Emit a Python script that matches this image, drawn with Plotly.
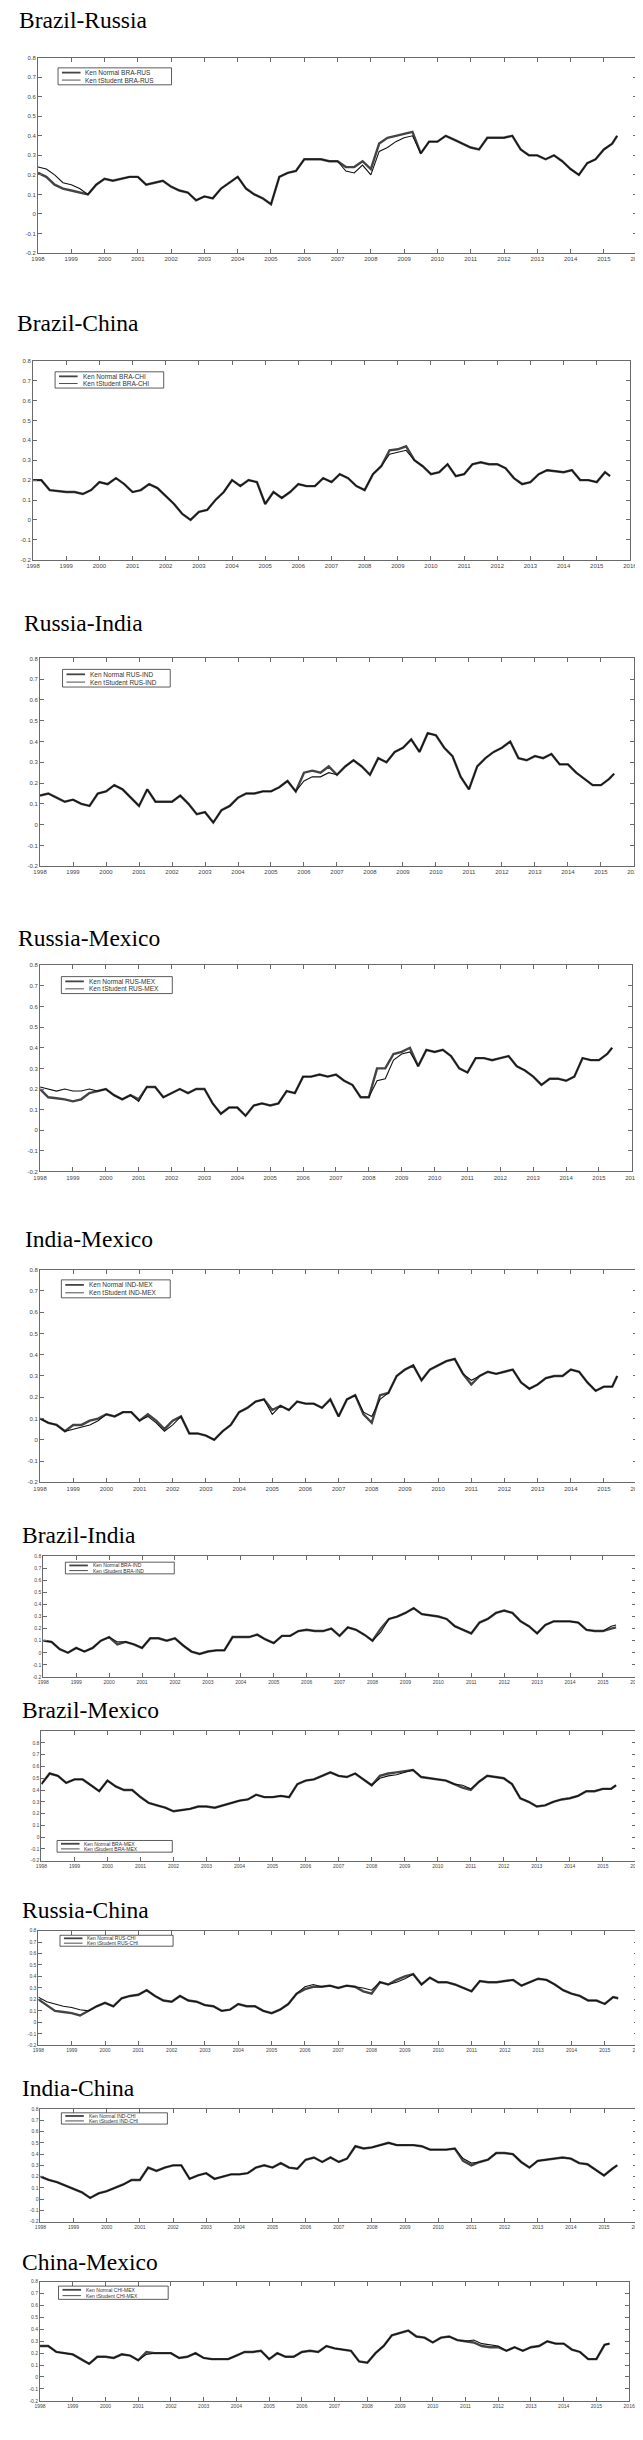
import plotly.graph_objects as go

W, H = 643, 2440

# ---------------- data (quarterly readings, year fractions) ----------------
DATES = [1998.0, 1998.25, 1998.5, 1998.75, 1999.0, 1999.25, 1999.5, 1999.75,
         2000.0, 2000.25, 2000.5, 2000.75, 2001.0, 2001.25, 2001.5, 2001.75,
         2002.0, 2002.25, 2002.5, 2002.75, 2003.0, 2003.25, 2003.5, 2003.75,
         2004.0, 2004.25, 2004.5, 2004.75, 2005.0, 2005.25, 2005.5, 2005.75,
         2006.0, 2006.25, 2006.5, 2006.75, 2007.0, 2007.25, 2007.5, 2007.75,
         2008.0, 2008.25, 2008.5, 2008.75, 2009.0, 2009.25, 2009.5, 2009.75,
         2010.0, 2010.25, 2010.5, 2010.75, 2011.0, 2011.25, 2011.5, 2011.75,
         2012.0, 2012.25, 2012.5, 2012.75, 2013.0, 2013.25, 2013.5, 2013.75,
         2014.0, 2014.25, 2014.5, 2014.75, 2015.0, 2015.25, 2015.4]

YEAR_TICKS = [1998, 1999, 2000, 2001, 2002, 2003, 2004, 2005, 2006, 2007,
              2008, 2009, 2010, 2011, 2012, 2013, 2014, 2015, 2016]
Y_TICKS = [-0.2, -0.1, 0, 0.1, 0.2, 0.3, 0.4, 0.5, 0.6, 0.7, 0.8]
Y_TICK_TEXT = ["-0.2", "-0.1", "0", "0.1", "0.2", "0.3", "0.4", "0.5", "0.6", "0.7", "0.8"]

TITLES = ["Brazil-Russia", "Brazil-China", "Russia-India", "Russia-Mexico", "India-Mexico",
          "Brazil-India", "Brazil-Mexico", "Russia-China", "India-China", "China-Mexico"]
CODES = ["BRA-RUS", "BRA-CHI", "RUS-IND", "RUS-MEX", "IND-MEX",
         "BRA-IND", "BRA-MEX", "RUS-CHI", "IND-CHI", "CHI-MEX"]

BRA_RUS_NORMAL = [0.21, 0.19, 0.15, 0.13, 0.12, 0.11, 0.10, 0.15, 0.18, 0.17, 0.18, 0.19,
                  0.19, 0.15, 0.16, 0.17, 0.14, 0.12, 0.11, 0.07, 0.09, 0.08, 0.13, 0.16,
                  0.19, 0.13, 0.10, 0.08, 0.05, 0.19, 0.21, 0.22, 0.28, 0.28, 0.28, 0.27,
                  0.27, 0.24, 0.24, 0.27, 0.23, 0.36, 0.39, 0.40, 0.41, 0.42, 0.31, 0.37,
                  0.37, 0.40, 0.38, 0.36, 0.34, 0.33, 0.39, 0.39, 0.39, 0.40, 0.33, 0.30,
                  0.30, 0.28, 0.30, 0.27, 0.23, 0.20, 0.26, 0.28, 0.33, 0.36, 0.40]
BRA_RUS_TSTUDENT = [0.24, 0.23, 0.20, 0.16, 0.15, 0.13, 0.10, 0.15, 0.18, 0.17, 0.18, 0.19,
                    0.19, 0.15, 0.16, 0.17, 0.14, 0.12, 0.11, 0.07, 0.09, 0.08, 0.13, 0.16,
                    0.19, 0.13, 0.10, 0.08, 0.05, 0.19, 0.21, 0.22, 0.28, 0.28, 0.28, 0.27,
                    0.27, 0.22, 0.21, 0.25, 0.20, 0.32, 0.34, 0.37, 0.39, 0.40, 0.31, 0.37,
                    0.37, 0.40, 0.38, 0.36, 0.34, 0.33, 0.39, 0.39, 0.39, 0.40, 0.33, 0.30,
                    0.30, 0.28, 0.30, 0.27, 0.23, 0.20, 0.26, 0.28, 0.33, 0.36, 0.40]

BRA_CHI_NORMAL = [0.20, 0.20, 0.15, 0.145, 0.14, 0.14, 0.13, 0.15, 0.19, 0.18, 0.21, 0.18,
                  0.14, 0.15, 0.18, 0.16, 0.12, 0.08, 0.03, 0.00, 0.04, 0.05, 0.10, 0.14,
                  0.20, 0.17, 0.20, 0.19, 0.08, 0.14, 0.11, 0.14, 0.18, 0.17, 0.17, 0.21,
                  0.19, 0.23, 0.21, 0.17, 0.15, 0.23, 0.27, 0.35, 0.355, 0.37, 0.30, 0.27,
                  0.23, 0.24, 0.28, 0.22, 0.23, 0.28, 0.29, 0.28, 0.28, 0.26, 0.21, 0.18,
                  0.19, 0.23, 0.25, 0.245, 0.24, 0.25, 0.20, 0.20, 0.19, 0.24, 0.22]
BRA_CHI_TSTUDENT = [0.20, 0.20, 0.15, 0.145, 0.14, 0.14, 0.13, 0.15, 0.19, 0.18, 0.21, 0.18,
                    0.14, 0.15, 0.18, 0.16, 0.12, 0.08, 0.03, 0.00, 0.04, 0.05, 0.10, 0.14,
                    0.20, 0.17, 0.20, 0.19, 0.08, 0.14, 0.11, 0.14, 0.18, 0.17, 0.17, 0.21,
                    0.19, 0.23, 0.21, 0.17, 0.15, 0.23, 0.27, 0.33, 0.34, 0.35, 0.30, 0.27,
                    0.23, 0.24, 0.28, 0.22, 0.23, 0.28, 0.29, 0.28, 0.28, 0.26, 0.21, 0.18,
                    0.19, 0.23, 0.25, 0.245, 0.24, 0.25, 0.20, 0.20, 0.19, 0.24, 0.22]

RUS_IND_NORMAL = [0.14, 0.15, 0.13, 0.11, 0.12, 0.10, 0.09, 0.15, 0.16, 0.19, 0.17, 0.13,
                  0.09, 0.17, 0.11, 0.11, 0.11, 0.14, 0.10, 0.05, 0.06, 0.01, 0.07, 0.09,
                  0.13, 0.15, 0.15, 0.16, 0.16, 0.18, 0.21, 0.16, 0.25, 0.26, 0.25, 0.28,
                  0.24, 0.28, 0.31, 0.28, 0.24, 0.32, 0.30, 0.35, 0.37, 0.41, 0.35, 0.44,
                  0.43, 0.37, 0.33, 0.23, 0.17, 0.28, 0.32, 0.35, 0.37, 0.40, 0.32, 0.31,
                  0.33, 0.32, 0.34, 0.29, 0.29, 0.25, 0.22, 0.19, 0.19, 0.22, 0.245]
RUS_IND_TSTUDENT = [0.14, 0.15, 0.13, 0.11, 0.12, 0.10, 0.09, 0.15, 0.16, 0.19, 0.17, 0.13,
                    0.09, 0.17, 0.11, 0.11, 0.11, 0.14, 0.10, 0.05, 0.06, 0.01, 0.07, 0.09,
                    0.13, 0.15, 0.15, 0.16, 0.16, 0.18, 0.21, 0.16, 0.21, 0.23, 0.23, 0.25,
                    0.24, 0.28, 0.31, 0.28, 0.24, 0.32, 0.30, 0.35, 0.37, 0.41, 0.35, 0.44,
                    0.43, 0.37, 0.33, 0.23, 0.17, 0.28, 0.32, 0.35, 0.37, 0.40, 0.32, 0.31,
                    0.33, 0.32, 0.34, 0.29, 0.29, 0.25, 0.22, 0.19, 0.19, 0.22, 0.245]

RUS_MEX_NORMAL = [0.20, 0.16, 0.155, 0.15, 0.14, 0.15, 0.18, 0.19, 0.20, 0.17, 0.15, 0.17,
                  0.15, 0.21, 0.21, 0.16, 0.18, 0.20, 0.18, 0.20, 0.20, 0.13, 0.08, 0.11,
                  0.11, 0.07, 0.12, 0.13, 0.12, 0.13, 0.19, 0.18, 0.26, 0.26, 0.27, 0.26,
                  0.27, 0.24, 0.22, 0.16, 0.16, 0.30, 0.30, 0.37, 0.38, 0.40, 0.31, 0.39,
                  0.38, 0.39, 0.36, 0.30, 0.28, 0.35, 0.35, 0.34, 0.35, 0.36, 0.31, 0.29,
                  0.26, 0.22, 0.25, 0.25, 0.24, 0.26, 0.35, 0.34, 0.34, 0.37, 0.40]
RUS_MEX_TSTUDENT = [0.21, 0.20, 0.19, 0.20, 0.19, 0.19, 0.20, 0.19, 0.20, 0.17, 0.15, 0.17,
                    0.14, 0.21, 0.21, 0.16, 0.18, 0.20, 0.18, 0.20, 0.20, 0.13, 0.08, 0.11,
                    0.11, 0.07, 0.12, 0.13, 0.12, 0.13, 0.19, 0.18, 0.26, 0.26, 0.27, 0.26,
                    0.27, 0.24, 0.22, 0.16, 0.16, 0.24, 0.25, 0.34, 0.37, 0.38, 0.31, 0.39,
                    0.38, 0.39, 0.36, 0.30, 0.28, 0.35, 0.35, 0.34, 0.35, 0.36, 0.31, 0.29,
                    0.26, 0.22, 0.25, 0.25, 0.24, 0.26, 0.35, 0.34, 0.34, 0.37, 0.40]

IND_MEX_NORMAL = [0.10, 0.08, 0.07, 0.04, 0.07, 0.07, 0.09, 0.10, 0.12, 0.11, 0.13, 0.13,
                  0.09, 0.12, 0.09, 0.05, 0.09, 0.11, 0.03, 0.03, 0.02, 0.00, 0.04, 0.07,
                  0.13, 0.15, 0.18, 0.19, 0.14, 0.16, 0.14, 0.18, 0.17, 0.17, 0.15, 0.19,
                  0.11, 0.19, 0.21, 0.12, 0.08, 0.21, 0.22, 0.30, 0.33, 0.35, 0.28, 0.33,
                  0.35, 0.37, 0.38, 0.31, 0.26, 0.30, 0.32, 0.31, 0.32, 0.33, 0.27, 0.24,
                  0.26, 0.29, 0.30, 0.30, 0.33, 0.32, 0.27, 0.23, 0.25, 0.25, 0.30]
IND_MEX_TSTUDENT = [0.10, 0.08, 0.07, 0.04, 0.05, 0.06, 0.07, 0.09, 0.12, 0.11, 0.13, 0.13,
                    0.09, 0.11, 0.08, 0.04, 0.07, 0.11, 0.03, 0.03, 0.02, 0.00, 0.04, 0.07,
                    0.13, 0.15, 0.18, 0.19, 0.12, 0.16, 0.14, 0.18, 0.17, 0.17, 0.15, 0.19,
                    0.11, 0.19, 0.21, 0.13, 0.11, 0.19, 0.22, 0.30, 0.33, 0.35, 0.28, 0.33,
                    0.35, 0.37, 0.38, 0.31, 0.28, 0.30, 0.32, 0.31, 0.32, 0.33, 0.27, 0.24,
                    0.26, 0.29, 0.30, 0.30, 0.33, 0.32, 0.27, 0.23, 0.25, 0.25, 0.30]

BRA_IND_NORMAL = [0.10, 0.09, 0.03, 0.00, 0.04, 0.01, 0.04, 0.10, 0.13, 0.07, 0.09, 0.07,
                  0.04, 0.12, 0.12, 0.10, 0.12, 0.06, 0.01, -0.01, 0.01, 0.02, 0.02, 0.13,
                  0.13, 0.13, 0.15, 0.11, 0.08, 0.14, 0.14, 0.18, 0.19, 0.18, 0.18, 0.20,
                  0.14, 0.21, 0.19, 0.15, 0.10, 0.20, 0.28, 0.30, 0.33, 0.37, 0.32, 0.31,
                  0.30, 0.28, 0.22, 0.19, 0.16, 0.25, 0.28, 0.33, 0.35, 0.33, 0.26, 0.22,
                  0.16, 0.23, 0.26, 0.26, 0.26, 0.25, 0.19, 0.18, 0.18, 0.20, 0.21]
BRA_IND_TSTUDENT = [0.10, 0.09, 0.03, 0.00, 0.04, 0.01, 0.04, 0.10, 0.13, 0.09, 0.09, 0.07,
                    0.04, 0.12, 0.12, 0.10, 0.12, 0.06, 0.01, -0.01, 0.01, 0.02, 0.02, 0.13,
                    0.13, 0.13, 0.15, 0.11, 0.08, 0.14, 0.14, 0.18, 0.19, 0.18, 0.18, 0.20,
                    0.14, 0.21, 0.19, 0.15, 0.10, 0.17, 0.28, 0.30, 0.33, 0.37, 0.32, 0.31,
                    0.30, 0.28, 0.22, 0.19, 0.16, 0.25, 0.28, 0.33, 0.35, 0.33, 0.26, 0.22,
                    0.16, 0.23, 0.26, 0.26, 0.26, 0.25, 0.19, 0.18, 0.18, 0.22, 0.23]

BRA_MEX_NORMAL = [0.45, 0.54, 0.52, 0.46, 0.49, 0.49, 0.44, 0.39, 0.48, 0.43, 0.40, 0.40,
                  0.34, 0.29, 0.27, 0.25, 0.22, 0.23, 0.24, 0.26, 0.26, 0.25, 0.27, 0.29,
                  0.31, 0.32, 0.36, 0.34, 0.34, 0.35, 0.34, 0.45, 0.48, 0.49, 0.52, 0.55,
                  0.52, 0.51, 0.54, 0.49, 0.44, 0.52, 0.54, 0.55, 0.56, 0.57, 0.51, 0.50,
                  0.49, 0.48, 0.45, 0.42, 0.40, 0.47, 0.52, 0.51, 0.50, 0.45, 0.33, 0.30,
                  0.26, 0.27, 0.30, 0.32, 0.33, 0.35, 0.39, 0.39, 0.41, 0.41, 0.44]
BRA_MEX_TSTUDENT = [0.45, 0.54, 0.52, 0.46, 0.49, 0.49, 0.44, 0.39, 0.48, 0.43, 0.40, 0.40,
                    0.34, 0.29, 0.27, 0.25, 0.22, 0.23, 0.24, 0.26, 0.26, 0.25, 0.27, 0.29,
                    0.31, 0.32, 0.36, 0.34, 0.34, 0.35, 0.34, 0.45, 0.48, 0.49, 0.52, 0.55,
                    0.52, 0.51, 0.54, 0.49, 0.44, 0.50, 0.52, 0.53, 0.55, 0.57, 0.51, 0.50,
                    0.49, 0.48, 0.45, 0.44, 0.41, 0.47, 0.52, 0.51, 0.50, 0.45, 0.33, 0.30,
                    0.26, 0.27, 0.30, 0.32, 0.33, 0.35, 0.39, 0.39, 0.41, 0.41, 0.44]

RUS_CHI_NORMAL = [0.20, 0.15, 0.10, 0.09, 0.08, 0.06, 0.10, 0.14, 0.17, 0.14, 0.21, 0.23,
                  0.24, 0.28, 0.23, 0.19, 0.18, 0.23, 0.19, 0.18, 0.15, 0.14, 0.10, 0.11,
                  0.16, 0.14, 0.14, 0.10, 0.08, 0.11, 0.16, 0.25, 0.29, 0.31, 0.31, 0.32,
                  0.30, 0.32, 0.31, 0.27, 0.25, 0.35, 0.33, 0.37, 0.40, 0.42, 0.33, 0.39,
                  0.35, 0.35, 0.33, 0.30, 0.27, 0.36, 0.35, 0.35, 0.36, 0.37, 0.32, 0.35,
                  0.38, 0.37, 0.33, 0.28, 0.25, 0.23, 0.19, 0.19, 0.16, 0.22, 0.21]
RUS_CHI_TSTUDENT = [0.22, 0.18, 0.16, 0.14, 0.13, 0.11, 0.10, 0.14, 0.17, 0.14, 0.21, 0.23,
                    0.24, 0.28, 0.23, 0.19, 0.18, 0.23, 0.19, 0.18, 0.15, 0.14, 0.10, 0.11,
                    0.16, 0.14, 0.14, 0.10, 0.08, 0.11, 0.16, 0.25, 0.31, 0.33, 0.31, 0.32,
                    0.30, 0.32, 0.31, 0.30, 0.28, 0.35, 0.33, 0.35, 0.38, 0.42, 0.33, 0.39,
                    0.35, 0.35, 0.33, 0.30, 0.27, 0.36, 0.35, 0.35, 0.36, 0.37, 0.32, 0.35,
                    0.38, 0.37, 0.33, 0.28, 0.25, 0.23, 0.19, 0.19, 0.16, 0.22, 0.21]

IND_CHI_NORMAL = [0.20, 0.17, 0.15, 0.12, 0.09, 0.06, 0.01, 0.05, 0.07, 0.10, 0.13, 0.17,
                  0.17, 0.28, 0.25, 0.28, 0.30, 0.30, 0.18, 0.21, 0.23, 0.18, 0.20, 0.22,
                  0.22, 0.23, 0.28, 0.30, 0.28, 0.32, 0.28, 0.27, 0.35, 0.37, 0.33, 0.37,
                  0.33, 0.36, 0.47, 0.45, 0.46, 0.48, 0.50, 0.48, 0.48, 0.48, 0.47, 0.44,
                  0.44, 0.44, 0.45, 0.34, 0.30, 0.33, 0.35, 0.41, 0.41, 0.40, 0.33, 0.28,
                  0.34, 0.35, 0.36, 0.37, 0.36, 0.32, 0.31, 0.26, 0.21, 0.27, 0.30]
IND_CHI_TSTUDENT = [0.20, 0.17, 0.15, 0.12, 0.09, 0.06, 0.01, 0.05, 0.07, 0.10, 0.13, 0.17,
                    0.17, 0.28, 0.25, 0.28, 0.30, 0.30, 0.18, 0.21, 0.23, 0.18, 0.20, 0.22,
                    0.22, 0.23, 0.28, 0.30, 0.28, 0.32, 0.28, 0.27, 0.35, 0.37, 0.33, 0.37,
                    0.33, 0.36, 0.47, 0.45, 0.46, 0.48, 0.50, 0.48, 0.48, 0.48, 0.47, 0.44,
                    0.44, 0.44, 0.45, 0.36, 0.32, 0.33, 0.35, 0.41, 0.41, 0.40, 0.33, 0.28,
                    0.34, 0.35, 0.36, 0.37, 0.36, 0.32, 0.31, 0.26, 0.21, 0.27, 0.30]

CHI_MEX_NORMAL = [0.26, 0.26, 0.21, 0.20, 0.19, 0.15, 0.11, 0.17, 0.17, 0.16, 0.19, 0.18,
                  0.14, 0.21, 0.20, 0.20, 0.20, 0.16, 0.17, 0.20, 0.16, 0.15, 0.15, 0.15,
                  0.18, 0.21, 0.21, 0.22, 0.15, 0.20, 0.17, 0.17, 0.21, 0.22, 0.21, 0.26,
                  0.24, 0.23, 0.22, 0.13, 0.12, 0.20, 0.26, 0.35, 0.37, 0.39, 0.34, 0.33,
                  0.29, 0.33, 0.34, 0.31, 0.30, 0.29, 0.26, 0.25, 0.25, 0.22, 0.25, 0.22,
                  0.25, 0.26, 0.30, 0.28, 0.28, 0.23, 0.21, 0.15, 0.15, 0.27, 0.28]
CHI_MEX_TSTUDENT = [0.26, 0.26, 0.21, 0.20, 0.19, 0.15, 0.11, 0.17, 0.17, 0.16, 0.19, 0.18,
                    0.14, 0.19, 0.20, 0.20, 0.20, 0.16, 0.17, 0.20, 0.16, 0.15, 0.15, 0.15,
                    0.18, 0.21, 0.21, 0.22, 0.15, 0.20, 0.17, 0.17, 0.21, 0.22, 0.21, 0.26,
                    0.24, 0.23, 0.22, 0.13, 0.12, 0.20, 0.26, 0.35, 0.37, 0.39, 0.34, 0.33,
                    0.29, 0.33, 0.34, 0.31, 0.30, 0.31, 0.28, 0.27, 0.26, 0.22, 0.25, 0.22,
                    0.25, 0.26, 0.30, 0.28, 0.28, 0.23, 0.21, 0.15, 0.15, 0.27, 0.28]

NORMAL_SERIES = [BRA_RUS_NORMAL, BRA_CHI_NORMAL, RUS_IND_NORMAL, RUS_MEX_NORMAL, IND_MEX_NORMAL,
                 BRA_IND_NORMAL, BRA_MEX_NORMAL, RUS_CHI_NORMAL, IND_CHI_NORMAL, CHI_MEX_NORMAL]
TSTUDENT_SERIES = [BRA_RUS_TSTUDENT, BRA_CHI_TSTUDENT, RUS_IND_TSTUDENT, RUS_MEX_TSTUDENT,
                   IND_MEX_TSTUDENT, BRA_IND_TSTUDENT, BRA_MEX_TSTUDENT, RUS_CHI_TSTUDENT,
                   IND_CHI_TSTUDENT, CHI_MEX_TSTUDENT]

# ---------------- layout geometry (pixels) ----------------
# plot box: left, right, top, bottom
BOXES = [(23.5, 636, 46.7, 242.7), (18.5, 628.6, 350.7, 550), (25.6, 632.7, 649, 857.3),
         (25.6, 630.6, 956.7, 1163.3), (25.6, 636, 1261.7, 1475), (28.9, 634.7, 1549, 1670),
         (27, 634.7, 1724.3, 1854.3), (23.9, 637, 1924.3, 2039.3), (26, 636, 2103.3, 2216),
         (25.6, 627.8, 2276.3, 2395.7)]
Y_TOP = [0.8, 0.8, 0.8, 0.8, 0.8, 0.8, 0.9, 0.8, 0.8, 0.8]
TITLE_POS = [(2, 18), (0, 322), (7, 622.7), (1, 938.3), (8, 1240), (5, 1536.7), (5, 1712.7),
             (5, 1912.7), (5, 2091), (5, 2266)]
LEGEND_BOX = [(44, 160, 57, 74), (41, 152, 361.7, 378), (48.6, 158.7, 660, 677.7),
              (47.4, 160.8, 968, 985), (47.4, 158.7, 1272, 1290), (51.5, 162.8, 1555, 1566.7),
              (43, 160.8, 1834, 1845.7), (46, 161.6, 1929, 1940), (47.4, 155.8, 2107, 2118.3),
              (44.5, 156.6, 2280.7, 2294)]

NORMAL_STYLE = dict(color="#444444", width=2.4)
TSTUD_STYLE = dict(color="#111111", width=1.1)


def px_x(v):
    return v / W


def px_y(v):
    return 1 - v / H


fig = go.Figure()
annotations = []
shapes = []

for i in range(10):
    l, r, t, b = BOXES[i]
    sfx = "" if i == 0 else str(i + 1)
    xa, ya = "x" + sfx, "y" + sfx
    small = i >= 5
    tick_size = 5 if small else 6
    leg_size = 5 if small else 6.5

    fig.add_trace(go.Scatter(x=DATES, y=NORMAL_SERIES[i], mode="lines", line=NORMAL_STYLE,
                             xaxis=xa, yaxis=ya, showlegend=False,
                             name="Ken Normal " + CODES[i]))
    fig.add_trace(go.Scatter(x=DATES, y=TSTUDENT_SERIES[i], mode="lines", line=TSTUD_STYLE,
                             xaxis=xa, yaxis=ya, showlegend=False,
                             name="Ken tStudent " + CODES[i]))

    common = dict(showline=True, linecolor="#6a6a6a", linewidth=1, mirror="ticks",
                  ticks="inside", ticklen=4, tickcolor="#6a6a6a", tickwidth=1,
                  showgrid=False, zeroline=False,
                  tickfont=dict(family="Liberation Sans", size=tick_size, color="#444"))
    fig.update_layout(**{
        "xaxis" + sfx: dict(domain=[px_x(l), px_x(r)], range=[1998, 2016],
                            tickvals=YEAR_TICKS, ticktext=[str(y) for y in YEAR_TICKS],
                            anchor=ya, **common),
        "yaxis" + sfx: dict(domain=[px_y(b), px_y(t)], range=[-0.2, Y_TOP[i]],
                            tickvals=Y_TICKS, ticktext=Y_TICK_TEXT, anchor=xa, **common),
    })

    # panel title
    tx, ty = TITLE_POS[i]
    annotations.append(dict(text=TITLES[i], x=px_x(tx), y=px_y(ty + 6), xref="paper",
                            yref="paper", xanchor="left", yanchor="bottom", showarrow=False,
                            font=dict(family="Liberation Serif", size=23.5, color="black")))

    # legend box (drawn like the MATLAB legend)
    lx0, lx1, ly0, ly1 = LEGEND_BOX[i]
    shapes.append(dict(type="rect", xref="paper", yref="paper", x0=px_x(lx0), x1=px_x(lx1),
                       y0=px_y(ly1), y1=px_y(ly0), line=dict(color="#333", width=0.8),
                       fillcolor="white", layer="above"))
    hgt = ly1 - ly0
    rows = [ly0 + 0.28 * hgt, ly0 + 0.72 * hgt]
    styles = [dict(color="#444444", width=1.8), dict(color="#222", width=0.8)]
    labels = ["Ken Normal " + CODES[i], "Ken tStudent " + CODES[i]]
    for ry, st, lab in zip(rows, styles, labels):
        shapes.append(dict(type="line", xref="paper", yref="paper", x0=px_x(lx0 + 4),
                           x1=px_x(lx0 + 23), y0=px_y(ry), y1=px_y(ry),
                           line=dict(color=st["color"], width=st["width"]),
                           layer="above"))
        annotations.append(dict(text=lab, x=px_x(lx0 + 27), y=px_y(ry), xref="paper",
                                yref="paper", xanchor="left", yanchor="middle",
                                showarrow=False, borderpad=0,
                                font=dict(family="Liberation Sans", size=leg_size,
                                          color="#333")))

fig.update_layout(width=W, height=H, autosize=False, margin=dict(l=0, r=0, t=0, b=0),
                  paper_bgcolor="white", plot_bgcolor="white",
                  annotations=annotations, shapes=shapes, showlegend=False)

fig.write_html("out.html")
